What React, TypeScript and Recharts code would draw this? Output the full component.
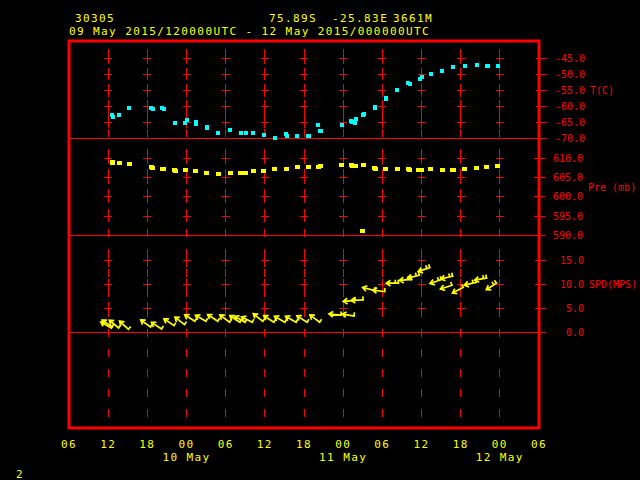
import React from "react";
import {
  ComposedChart,
  Scatter,
  XAxis,
  YAxis,
  CartesianGrid,
  ReferenceLine,
  ReferenceArea,
} from "recharts";

// hours counted from 09 May 2015 06 UTC
const hourTicks = [0, 6, 12, 18, 24, 30, 36, 42, 48, 54, 60, 66, 72];
const hourLabels = ["06", "12", "18", "00", "06", "12", "18", "00", "06", "12", "18", "00", "06"];
const dayTicks = [18, 42, 66];
const dayNames = ["10 May", "11 May", "12 May"];

const tTicks = [-70, -65, -60, -55, -50, -45];
const pTicks = [590, 595, 600, 605, 610];
const wTicks = [0, 5, 10, 15];

// temperature (C)
const tHours = [
  6.6, 6.7, 7.7, 9.2, 12.6, 12.8, 14.3, 14.5, 16.2, 17.8, 18.0, 19.4, 19.5, 21.1, 21.2,
  22.9, 24.7, 26.3, 27.1, 28.2, 29.8, 31.5, 33.2, 33.4, 34.9, 36.6, 36.8, 38.2, 38.5, 38.6,
  41.8, 43.2, 43.4, 43.8, 44.0, 45.1, 45.2, 46.8, 46.9, 48.5, 48.6, 50.3, 52.0, 52.2, 53.7,
  54.0, 55.4, 57.2, 58.8, 58.9, 60.6, 62.5, 64.0, 64.2, 65.7,
];
const tValues = [
  -62.8, -63.3, -62.8, -60.6, -60.6, -60.9, -60.6, -60.9, -65.3, -65.2, -64.4, -65.5, -65.0,
  -66.6, -66.9, -68.4, -67.5, -68.4, -68.4, -68.4, -69.1, -70.0, -68.8, -69.4, -69.4, -69.4,
  -69.4, -65.9, -67.8, -67.8, -65.9, -64.7, -65.0, -65.3, -64.1, -62.8, -62.5, -60.6, -60.3,
  -57.8, -57.5, -55.0, -52.8, -53.1, -51.6, -50.9, -50.0, -49.1, -47.8, -47.8, -47.5, -47.2,
  -47.5, -47.5, -47.5,
];

// pressure (mb)
const pHours = [
  6.6, 6.7, 7.7, 9.2, 12.6, 12.8, 14.3, 14.5, 16.2, 16.3, 17.9, 19.4, 21.1, 22.9, 24.7, 26.3,
  27.1, 28.2, 29.8, 31.5, 33.3, 35.0, 36.7, 38.2, 38.6, 41.8, 43.2, 43.4, 43.9, 45.0, 45.1,
  46.8, 46.9, 48.5, 50.3, 52.0, 52.2, 53.6, 54.0, 55.4, 57.2, 58.8, 58.9, 60.6, 62.5, 64.0,
  65.7,
];
const pValues = [
  609.1, 608.9, 608.9, 608.6, 607.8, 607.6, 607.3, 607.3, 607.1, 606.8, 607.1, 606.8, 606.3,
  606.0, 606.3, 606.3, 606.3, 606.8, 606.8, 607.3, 607.3, 607.8, 607.8, 607.8, 608.1, 608.3,
  608.3, 608.1, 608.1, 591.3, 608.3, 607.6, 607.3, 607.3, 607.3, 607.3, 607.1, 607.1, 607.1,
  607.3, 607.1, 607.1, 607.1, 607.3, 607.6, 607.8, 608.1,
];

// wind speed (m/s) and direction it blows from (deg)
const wHours = [
  6.6, 6.7, 7.7, 9.2, 12.6, 14.3, 16.2, 17.8, 19.4, 21.1, 22.9, 24.7, 26.3, 27.1, 28.2, 29.8,
  31.5, 33.2, 34.9, 36.6, 38.5, 41.8, 43.8, 44.0, 45.2, 46.9, 48.5, 50.6, 52.6, 53.8, 55.4,
  57.2, 58.8, 58.9, 60.5, 62.5, 64.1, 65.6,
];
const wSpeed = [
  0.8, 1.0, 0.8, 0.5, 1.0, 0.6, 1.3, 1.5, 2.2, 2.2, 2.2, 2.0, 2.0, 2.0, 2.0, 2.2, 2.0, 2.0,
  2.0, 2.0, 2.0, 3.6, 3.4, 6.7, 6.8, 8.7, 8.5, 10.3, 11.1, 12.0, 13.6, 11.1, 9.9, 11.8, 9.5,
  10.5, 11.4, 10.4,
];
const wDir = [
  120, 125, 130, 133, 126, 123, 124, 128, 123, 120, 124, 127, 123, 120, 117, 128, 123, 120,
  120, 122, 127, 95, 99, 85, 87, 105, 97, 90, 85, 76, 72, 71, 72, 77, 62, 77, 80, 57,
];

const RED = "#ff0000";
const YELLOW = "#ffff00";
const CYAN = "#00ffff";
const MONO = "'DejaVu Sans Mono', 'Liberation Mono', monospace";

const tData = tHours.map((h, i) => ({ h, v: tValues[i] }));
const pData = pHours.map((h, i) => ({ h, v: pValues[i] }));
const wData = wHours.map((h, i) => ({ h, v: wSpeed[i], dir: wDir[i] }));

const gridHours = hourTicks.slice(1, -1);
const crosses = (ticks: number[]) =>
  gridHours.flatMap((h) => ticks.map((v) => ({ h, v })));

const Cross = (p: any) => (
  <path
    d={`M${p.cx - 4},${p.cy}H${p.cx + 4}M${p.cx},${p.cy - 6}V${p.cy + 6}`}
    stroke={RED}
    strokeWidth={1}
    shapeRendering="crispEdges"
  />
);

const rot = (x: number, y: number, a: number) => [
  x * Math.cos(a) - y * Math.sin(a),
  x * Math.sin(a) + y * Math.cos(a),
];

const WindArrow = (p: any) => {
  const b = ((p.payload.dir + 180) * Math.PI) / 180;
  const ux = Math.sin(b);
  const uy = -Math.cos(b);
  const len = 13;
  const hx = p.cx + ux * len;
  const hy = p.cy + uy * len;
  const [a1x, a1y] = rot(-ux, -uy, 0.6);
  const [a2x, a2y] = rot(-ux, -uy, -0.6);
  // feather: perpendicular to the shaft
  const [bx, by] = rot(ux, uy, Math.PI / 2);
  let d = `M${p.cx},${p.cy}L${hx},${hy}M${hx + a1x * 5},${hy + a1y * 5}L${hx},${hy}L${hx + a2x * 5},${hy + a2y * 5}`;
  d += `M${p.cx + ux},${p.cy + uy}l${bx * 3.5},${by * 3.5}`;
  if (p.payload.v >= 10) {
    d += `M${p.cx + ux * 4},${p.cy + uy * 4}l${bx * 3.5},${by * 3.5}`;
  }
  return <path d={d} stroke={YELLOW} strokeWidth={1.7} fill="none" />;
};

const Square = (color: string, w: number, h: number) => (p: any) => (
  <rect x={Math.round(p.cx - w / 2)} y={Math.round(p.cy - h / 2)} width={w} height={h} fill={color} />
);

const XTick = (p: any) => {
  const i = hourTicks.indexOf(p.payload.value);
  const di = dayTicks.indexOf(p.payload.value);
  return (
    <g>
      <text x={p.x} y={p.y + 20} textAnchor="middle" fill={YELLOW} fontSize={11} letterSpacing={1.4} fontFamily={MONO}>
        {hourLabels[i]}
      </text>
      {di >= 0 && (
        <text x={p.x} y={p.y + 33} textAnchor="middle" fill={YELLOW} fontSize={11} letterSpacing={1.4} fontFamily={MONO}>
          {dayNames[di]}
        </text>
      )}
    </g>
  );
};

// each right axis is 1px wide, so the later ones sit 1px further out
const makeYTick = (title: string, at: number, dy: number, shift: number) => (p: any) => {
  const x = p.x - shift;
  return (
    <g>
      <line x1={x - 4} x2={x + 7} y1={p.y} y2={p.y} stroke={RED} strokeWidth={1} shapeRendering="crispEdges" />
      <text x={x + 45} y={p.y} dy="0.35em" textAnchor="end" fill={RED} fontSize={10} fontFamily={MONO}>
        {Number(p.payload.value).toFixed(1)}
      </text>
      {p.payload.value === at && (
        <text x={x + 50} y={p.y + dy} dy="0.35em" fill={RED} fontSize={10} fontFamily={MONO}>
          {title}
        </text>
      )}
    </g>
  );
};

const TTick = makeYTick("T(C)", -55, 0, 0);
const PTick = makeYTick("Pre (mb)", 605, 10, 1);
const WTick = makeYTick("SPD(MPS)", 10, 0, 2);

const tDomain = [-160.97, -39.57];
const pDomain = [540.22, 640.35];
const wDomain = [-20.05, 61.03];

const axisProps = {
  orientation: "right" as const,
  type: "number" as const,
  dataKey: "v",
  allowDataOverflow: true,
  width: 1,
  axisLine: false,
  tickLine: false,
  tickSize: 0,
  tickMargin: 0,
  interval: 0 as const,
};

export default function App() {
  const yText = { fill: YELLOW, fontSize: 11, letterSpacing: 1.4, fontFamily: MONO };
  return (
    <div style={{ position: "fixed", left: 0, top: 0, width: 640, height: 480, background: "#000" }}>
      <ComposedChart width={640} height={480} margin={{ top: 41, right: 98, left: 69, bottom: 0 }}>
        <CartesianGrid
          horizontal={false}
          stroke={RED}
          strokeDasharray="8 12"
          strokeDashoffset={12}
          shapeRendering="crispEdges"
        />
        <XAxis
          type="number"
          dataKey="h"
          domain={[0, 72]}
          ticks={hourTicks}
          allowDataOverflow
          axisLine={false}
          tickLine={false}
          tickSize={0}
          tickMargin={0}
          height={52}
          interval={0}
          tick={<XTick />}
        />
        <YAxis yAxisId="t" {...axisProps} domain={tDomain} ticks={tTicks} tick={<TTick />} />
        <YAxis yAxisId="p" {...axisProps} domain={pDomain} ticks={pTicks} tick={<PTick />} />
        <YAxis yAxisId="w" {...axisProps} domain={wDomain} ticks={wTicks} tick={<WTick />} />

        <ReferenceLine yAxisId="t" y={-70} stroke={RED} strokeWidth={1} shapeRendering="crispEdges" />
        <ReferenceLine yAxisId="p" y={590} stroke={RED} strokeWidth={1} shapeRendering="crispEdges" />
        <ReferenceLine yAxisId="w" y={0} stroke={RED} strokeWidth={1} shapeRendering="crispEdges" />

        <Scatter yAxisId="t" data={crosses(tTicks.slice(1))} shape={Cross} isAnimationActive={false} />
        <Scatter yAxisId="p" data={crosses(pTicks.slice(1))} shape={Cross} isAnimationActive={false} />
        <Scatter yAxisId="w" data={crosses(wTicks.slice(1))} shape={Cross} isAnimationActive={false} />

        <Scatter yAxisId="t" data={tData} shape={Square(CYAN, 4, 4)} isAnimationActive={false} />
        <Scatter yAxisId="p" data={pData} shape={Square(YELLOW, 5, 4)} isAnimationActive={false} />
        <Scatter yAxisId="w" data={wData} shape={WindArrow} isAnimationActive={false} />

        <ReferenceArea
          yAxisId="t"
          x1={0}
          x2={72}
          y1={tDomain[0]}
          y2={tDomain[1]}
          fill="none"
          fillOpacity={0}
          stroke={RED}
          strokeWidth={3}
          ifOverflow="visible"
        />
      </ComposedChart>
      <svg width={640} height={480} style={{ position: "absolute", left: 0, top: 0, pointerEvents: "none" }}>
        <text x={75} y={22} {...yText}>30305</text>
        <text x={269} y={22} {...yText}>75.89S</text>
        <text x={332} y={22} {...yText}>-25.83E</text>
        <text x={393} y={22} {...yText}>3661M</text>
        <text x={69} y={35} {...yText}>09 May 2015/120000UTC - 12 May 2015/000000UTC</text>
        <text x={16} y={478} {...yText}>2</text>
      </svg>
    </div>
  );
}
